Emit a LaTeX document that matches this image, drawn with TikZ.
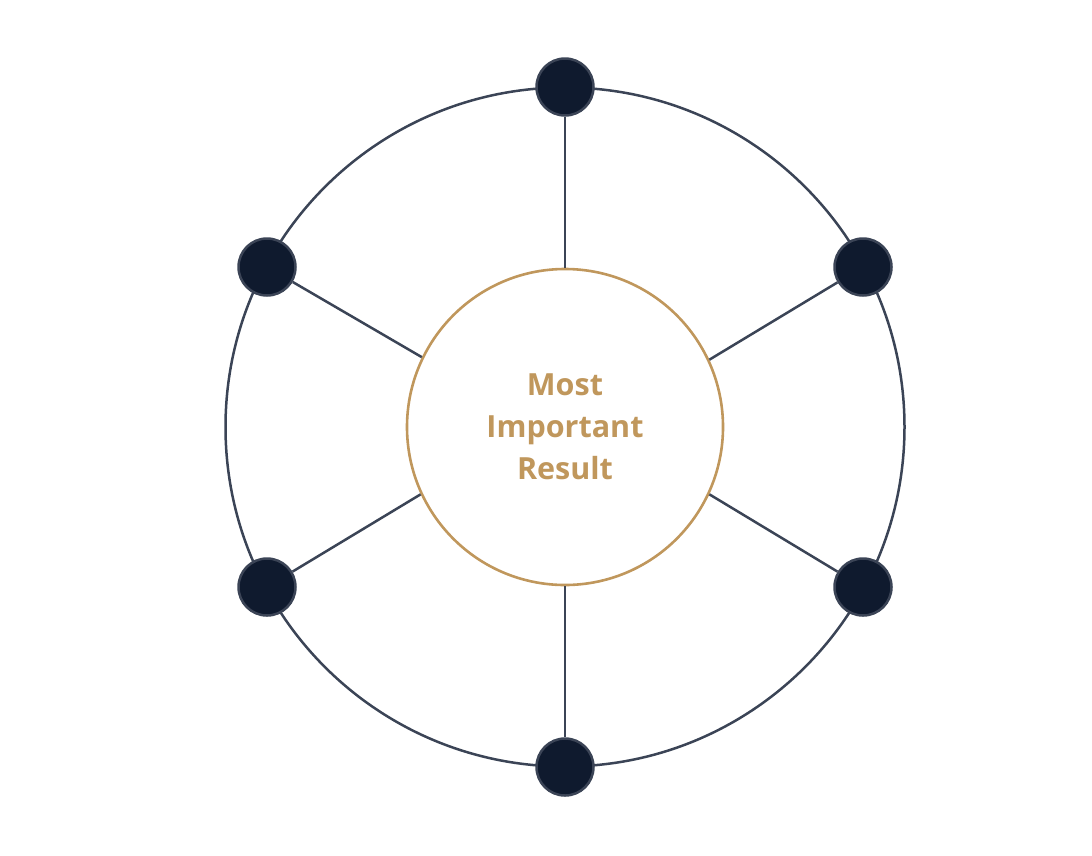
\documentclass[tikz,border=0pt]{standalone}
\usepackage{fontspec}
\setmainfont{Open Sans}
\definecolor{ringcol}{HTML}{3B4456}
\definecolor{dotfill}{HTML}{0F1A2E}
\definecolor{gold}{HTML}{C0975C}
\begin{document}
\begin{tikzpicture}[x=1pt,y=-1pt,
  ring/.style={draw=ringcol,line width=2.5pt},
  spoke/.style={draw=ringcol,line width=2.5pt},
  dotnode/.style={circle,draw=ringcol,fill=dotfill,line width=2.5pt,minimum size=57pt,inner sep=0pt},
  hub/.style={circle,draw=gold,fill=white,line width=2.6pt,minimum size=316pt,inner sep=0pt,
    text=gold,align=center,font=\fontsize{30.5}{42}\selectfont\bfseries}]
\useasboundingbox (0,0) rectangle (1092,855);
\coordinate (c) at (565,427);
\draw[ring] (c) circle (339.5);
\node[hub] (res) at (c) {Most\\Important\\Result};
\node[dotnode] (d1) at (565,87) {};
\node[dotnode] (d2) at (863,267) {};
\node[dotnode] (d3) at (863,587) {};
\node[dotnode] (d4) at (565,767) {};
\node[dotnode] (d5) at (267,587) {};
\node[dotnode] (d6) at (267,267) {};
\draw[spoke] (res.north) -- (d1);
\draw[spoke] (res.25.7) -- (d2);
\draw[spoke] (res.-25.7) -- (d3);
\draw[spoke] (res.south) -- (d4);
\draw[spoke] (res.205.7) -- (d5);
\draw[spoke] (res.154.3) -- (d6);
\end{tikzpicture}
\end{document}
